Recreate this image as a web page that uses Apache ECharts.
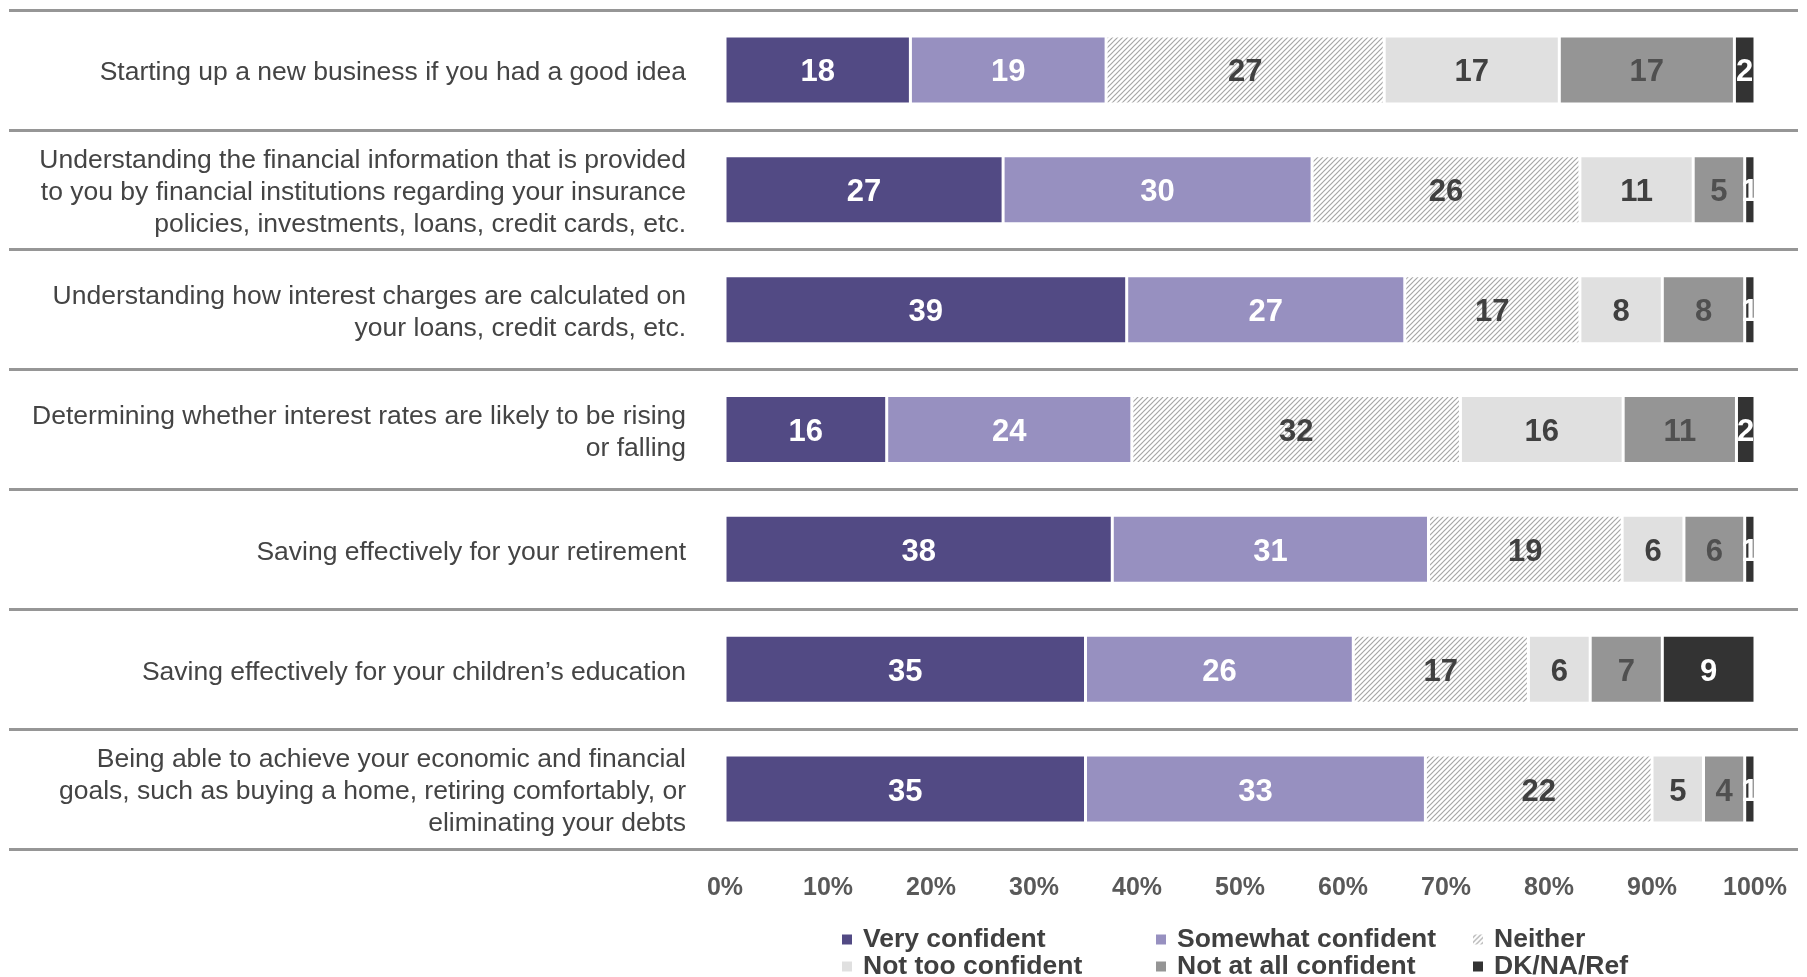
<!DOCTYPE html>
<html>
<head>
<meta charset="utf-8">
<script src="https://cdn.jsdelivr.net/npm/echarts@6/dist/echarts.min.js"></script>
<style>
html,body{margin:0;padding:0;background:#fff;}
#chart{width:1807px;height:977px;}
</style>
</head>
<body>
<div id="chart"></div>
<script>
var categories = [
  "Starting up a new business if you had a good idea",
  "Understanding the financial information that is provided\nto you by financial institutions regarding your insurance\npolicies, investments, loans, credit cards, etc.",
  "Understanding how interest charges are calculated on\nyour loans, credit cards, etc.",
  "Determining whether interest rates are likely to be rising\nor falling",
  "Saving effectively for your retirement",
  "Saving effectively for your children\u2019s education",
  "Being able to achieve your economic and financial\ngoals, such as buying a home, retiring comfortably, or\neliminating your debts"
];
var seriesNames = ["Very confident", "Somewhat confident", "Neither", "Not too confident", "Not at all confident", "DK/NA/Ref"];
var veryConfident     = [18, 27, 39, 15.7, 37.6, 35, 35];
var somewhatConfident = [19, 30, 27, 23.8, 30.7, 26, 33];
var neither           = [27, 26, 17, 31.9, 18.8, 17, 22];
var notTooConfident   = [17, 11, 8, 15.8, 6.0, 6, 5];
var notAtAllConfident = [17, 5, 8, 11.0, 5.9, 7, 4];
var dkNaRef           = [2, 1, 1, 1.8, 1.0, 9, 1];
var xTickLabels = ["0%", "10%", "20%", "30%", "40%", "50%", "60%", "70%", "80%", "90%", "100%"];

// hatch pattern for "Neither"
var pc = document.createElement('canvas');
var s = 5;
pc.width = s; pc.height = s;
var ctx = pc.getContext('2d');
ctx.fillStyle = '#ffffff';
ctx.fillRect(0, 0, s, s);
ctx.strokeStyle = '#a6a6a6';
ctx.lineWidth = 1.2;
ctx.beginPath();
ctx.moveTo(0, s); ctx.lineTo(s, 0);
ctx.moveTo(-1, 1); ctx.lineTo(1, -1);
ctx.moveTo(s - 1, s + 1); ctx.lineTo(s + 1, s - 1);
ctx.stroke();
var hatch = { image: pc, repeat: 'repeat' };

var colors = ['#524a84', '#9790c0', hatch, '#e0e0e0', '#959595', '#333333'];
var labelColors = ['#ffffff', '#ffffff', '#404040', '#404040', '#505050', '#ffffff'];
var values = [veryConfident, somewhatConfident, neither, notTooConfident, notAtAllConfident, dkNaRef];

var FONT = 'Liberation Sans, Arial, sans-serif';

var series = seriesNames.map(function (name, i) {
  return {
    name: name,
    type: 'bar',
    stack: 'total',
    xAxisIndex: 1,
    yAxisIndex: 1,
    barWidth: 68,
    data: values[i],
    itemStyle: { color: colors[i], borderColor: '#ffffff', borderWidth: 1.5 },
    label: {
      show: true,
      position: 'inside',
      offset: [0, 3],
      formatter: function (p) { return Math.round(p.value); },
      color: labelColors[i],
      fontFamily: FONT,
      fontWeight: 'bold',
      fontSize: 31
    },
    emphasis: { disabled: true }
  };
});

// legend: 3 columns x 2 rows
var legendCols = [840, 1154, 1471];
var legendRows = [926, 953];
var legendOrder = [[0, 0], [1, 0], [2, 0], [0, 1], [1, 1], [2, 1]]; // [col,row] per series
var legends = seriesNames.map(function (name, i) {
  return {
    data: [name],
    left: legendCols[legendOrder[i][0]],
    top: legendRows[legendOrder[i][1]],
    orient: 'horizontal',
    icon: 'rect',
    itemWidth: 12,
    itemHeight: 12,
    padding: 0,
    selectedMode: false,
    textStyle: {
      fontFamily: FONT,
      fontWeight: 'bold',
      fontSize: 26.5,
      lineHeight: 26,
      color: '#404040',
      padding: [0, 0, 0, 5]
    }
  };
});

var option = {
  animation: false,
  backgroundColor: '#ffffff',
  grid: [
    { left: 9, right: 9, top: 10, height: 839 },
    { left: 725, width: 1030, top: 10, height: 839 },
    { left: 725, width: 1030, top: 13, height: 839 }
  ],
  legend: legends,
  xAxis: [
    { gridIndex: 0, type: 'value', min: 0, max: 1, show: false },
    {
      gridIndex: 1, type: 'value', min: 0, max: 100, interval: 10,
      axisLine: { show: false }, axisTick: { show: false }, splitLine: { show: false },
      axisLabel: {
        margin: 27,
        formatter: function (v) { return xTickLabels[Math.round(v / 10)]; },
        fontFamily: FONT,
        fontWeight: 'bold',
        fontSize: 25,
        color: '#595959'
      }
    },
    { gridIndex: 2, type: 'value', min: 0, max: 1, show: false }
  ],
  yAxis: [
    {
      gridIndex: 0, type: 'value', min: 0, max: 7, interval: 1,
      axisLine: { show: false }, axisTick: { show: false }, axisLabel: { show: false },
      splitLine: { show: true, lineStyle: { color: '#969696', width: 3 } }
    },
    {
      gridIndex: 1, type: 'category', inverse: true, data: categories,
      axisLine: { show: false }, axisTick: { show: false }, axisLabel: { show: false }
    },
    {
      gridIndex: 2, type: 'category', inverse: true, data: categories,
      axisLine: { show: false }, axisTick: { show: false }, splitLine: { show: false },
      axisLabel: {
        margin: 39,
        align: 'right',
        fontFamily: FONT,
        fontSize: 26.5,
        lineHeight: 32,
        color: '#444444'
      }
    }
  ],
  series: series
};

var chart = echarts.init(document.getElementById('chart'), null, { renderer: 'canvas' });
chart.setOption(option);
</script>
</body>
</html>
